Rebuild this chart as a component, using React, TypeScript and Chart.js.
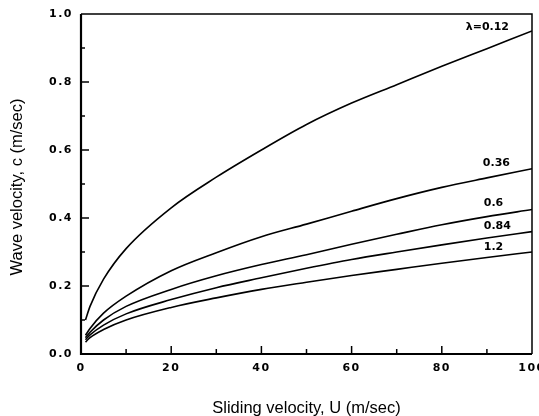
import React, { useEffect, useRef } from "react";
import { Chart, registerables } from "chart.js";

Chart.register(...registerables);

// Sliding velocity U (m/sec)
const U = [1, 2, 5, 10, 20, 30, 40, 50, 60, 70, 80, 90, 100];
// Wave velocity c (m/sec) for each wavelength λ
const c012 = [0.1, 0.14, 0.22, 0.31, 0.43, 0.52, 0.6, 0.675, 0.738, 0.792, 0.846, 0.898, 0.95];
const c036 = [0.055, 0.075, 0.12, 0.17, 0.245, 0.298, 0.345, 0.382, 0.42, 0.457, 0.49, 0.518, 0.545];
const c060 = [0.048, 0.064, 0.1, 0.14, 0.19, 0.23, 0.263, 0.292, 0.323, 0.352, 0.38, 0.404, 0.425];
const c084 = [0.042, 0.056, 0.085, 0.118, 0.16, 0.195, 0.224, 0.252, 0.278, 0.3, 0.321, 0.341, 0.36];
const c120 = [0.035, 0.048, 0.072, 0.1, 0.137, 0.165, 0.19, 0.211, 0.231, 0.249, 0.267, 0.284, 0.3];

const seriesValues = [c012, c036, c060, c084, c120];
const curveLabels = ["λ=0.12", "0.36", "0.6", "0.84", "1.2"];
// label anchor points in data units (U, c)
const labelU = [85.3, 89.1, 89.3, 89.3, 89.3];
const labelC = [0.962, 0.562, 0.444, 0.376, 0.315];

const xTitle = "Sliding velocity, U (m/sec)";
const yTitle = "Wave velocity, c (m/sec)";

const decorPlugin = {
  id: "decor",
  beforeDraw(chart: any) {
    (chart.ctx as any).letterSpacing = "1.5px";
  },
  afterDraw(chart: any) {
    const { ctx, chartArea: a, scales } = chart;
    const xs = scales.x;
    const ys = scales.y;
    ctx.save();
    (ctx as any).letterSpacing = "0px";
    ctx.strokeStyle = "#000";
    ctx.lineCap = "butt";
    // frame
    ctx.lineWidth = 1.5;
    ctx.beginPath();
    ctx.moveTo(a.left, a.top);
    ctx.lineTo(a.right, a.top);
    ctx.lineTo(a.right, a.bottom);
    ctx.stroke();
    ctx.lineWidth = 2.2;
    ctx.beginPath();
    ctx.moveTo(a.left, a.top);
    ctx.lineTo(a.left, a.bottom);
    ctx.lineTo(a.right, a.bottom);
    ctx.stroke();
    // inward ticks
    ctx.lineWidth = 1.5;
    for (let v = 10; v < 100; v += 10) {
      const px = xs.getPixelForValue(v);
      const len = v % 20 === 0 ? 8 : 5;
      ctx.beginPath();
      ctx.moveTo(px, a.bottom);
      ctx.lineTo(px, a.bottom - len);
      ctx.stroke();
    }
    for (let i = 1; i < 10; i++) {
      const v = i / 10;
      const py = ys.getPixelForValue(v);
      const len = i % 2 === 0 ? 8 : 4;
      ctx.beginPath();
      ctx.moveTo(a.left, py);
      ctx.lineTo(a.left + len, py);
      ctx.stroke();
    }
    ctx.fillStyle = "#000";
    // axis titles
    ctx.font = "16.5px 'Liberation Sans', Arial";
    ctx.textAlign = "center";
    ctx.textBaseline = "middle";
    ctx.fillText(xTitle, (a.left + a.right) / 2, 408);
    ctx.save();
    ctx.translate(17, (a.top + a.bottom) / 2 + 3);
    ctx.rotate(-Math.PI / 2);
    ctx.fillText(yTitle, 0, 0);
    ctx.restore();
    // curve labels
    ctx.font = "bold 11px 'DejaVu Sans'";
    ctx.textAlign = "left";
    curveLabels.forEach((t, i) => {
      ctx.fillText(t, xs.getPixelForValue(labelU[i]), ys.getPixelForValue(labelC[i]));
    });
    ctx.restore();
  },
};

export default function App() {
  const ref = useRef<HTMLCanvasElement | null>(null);
  useEffect(() => {
    document.body.style.margin = "0";
    const canvas = ref.current!;
    const chart = new Chart(canvas, {
      type: "line",
      data: {
        datasets: seriesValues.map((vals, i) => ({
          label: curveLabels[i],
          data: U.map((u, j) => ({ x: u, y: vals[j] })),
          borderColor: "#000",
          borderWidth: 1.6,
          pointRadius: 0,
          fill: false,
          cubicInterpolationMode: "monotone" as const,
        })),
      },
      options: {
        responsive: false,
        animation: false,
        devicePixelRatio: 1,
        layout: { padding: { top: 14, right: 7, left: 0, bottom: 0 } },
        plugins: { legend: { display: false }, tooltip: { enabled: false } },
        scales: {
          x: {
            type: "linear",
            min: 0,
            max: 100,
            grid: { display: false, drawTicks: false },
            border: { display: false },
            ticks: {
              stepSize: 20,
              padding: 8,
              color: "#000",
              maxRotation: 0,
              font: { family: "'DejaVu Sans'", size: 11, weight: "bold" },
            },
            title: { display: false },
            afterFit(scale: any) {
              scale.height = 62;
              scale.paddingLeft = 0;
              scale.paddingRight = 0;
            },
          },
          y: {
            type: "linear",
            min: 0,
            max: 1,
            grid: { display: false, drawTicks: false },
            border: { display: false },
            ticks: {
              stepSize: 0.2,
              padding: 8,
              color: "#000",
              callback: (v: any) => Number(v).toFixed(1),
              font: { family: "'DejaVu Sans'", size: 11, weight: "bold" },
            },
            title: { display: false },
            afterFit(scale: any) {
              scale.width = 81;
              scale.paddingTop = 0;
              scale.paddingBottom = 0;
            },
          },
        },
      },
      plugins: [decorPlugin],
    });
    return () => chart.destroy();
  }, []);
  return (
    <div style={{ width: 539, height: 416, background: "#fff" }}>
      <canvas ref={ref} width={539} height={416} />
    </div>
  );
}
